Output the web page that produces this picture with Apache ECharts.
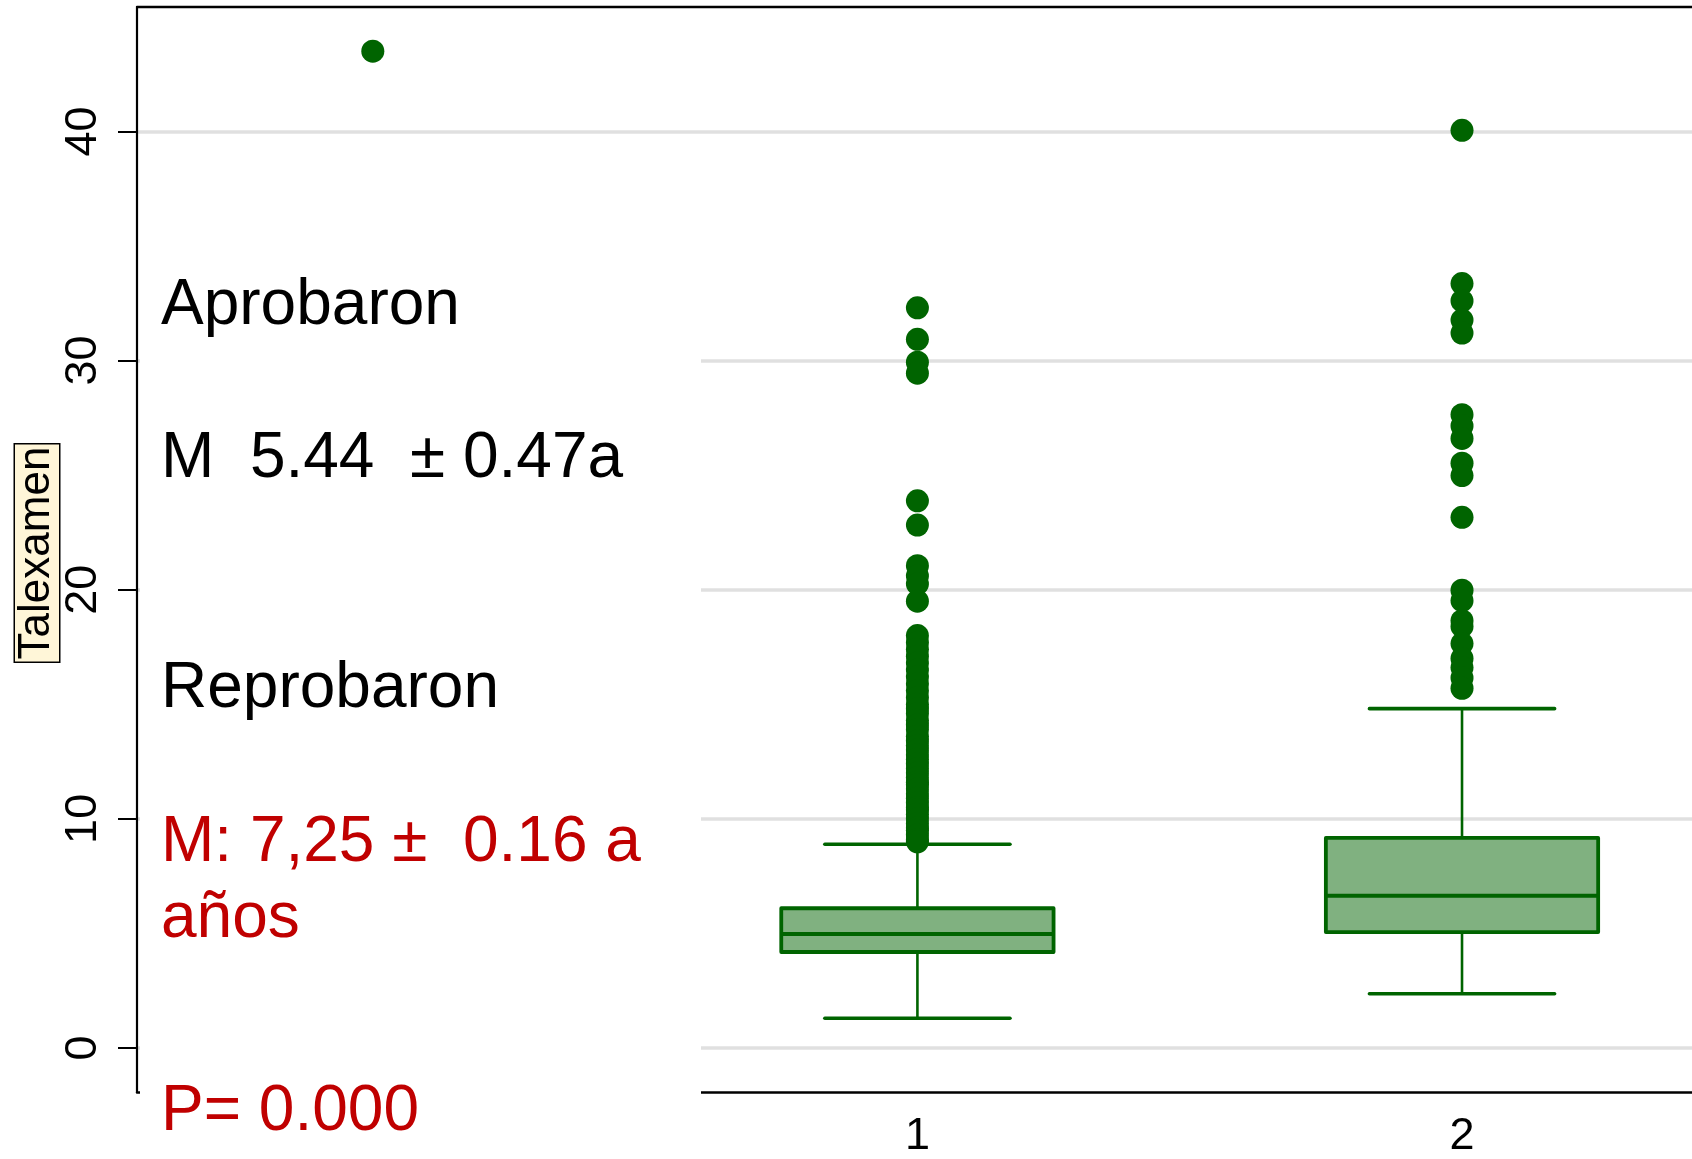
<!DOCTYPE html>
<html>
<head>
<meta charset="utf-8">
<script src="https://cdn.jsdelivr.net/npm/echarts@6/dist/echarts.min.js"></script>
<style>
html,body{margin:0;padding:0;background:#ffffff;}
#chart{width:1692px;height:1159px;}
</style>
</head>
<body>
<div id="chart"></div>
<script>
// ---- data ----
const groupPositions = [1, 2];
const lowerWhisker = [1.30, 2.37];
const q1Values = [4.19, 5.06];
const medianValues = [4.97, 6.64];
const q3Values = [6.10, 9.17];
const upperWhisker = [8.89, 14.81];

const outliersGroup0 = [43.5];
const outliersGroup1 = [32.3, 30.93, 29.93, 29.45, 23.88, 22.82, 21.05, 20.6, 20.25, 19.5,
  18.0, 17.7, 17.4, 17.1, 16.8, 16.5, 16.2, 15.9, 15.6, 15.3, 15.0, 14.8, 14.6, 14.3, 14.1,
  13.9, 13.6, 13.4, 13.2, 13.0, 12.8, 12.6, 12.4, 12.2, 12.0, 11.8, 11.6, 11.5, 11.3, 11.1,
  10.9, 10.7, 10.5, 10.4, 10.2, 10.0, 9.8, 9.6, 9.5, 9.3, 9.1, 9.0];
const outliersGroup2 = [40.05, 33.36, 32.6, 31.77, 31.2, 27.64, 27.15, 26.6, 25.52, 24.98,
  23.16, 19.98, 19.52, 18.65, 18.4, 17.65, 17.0, 16.6, 16.15, 15.7];

const xTickLabels = [1, 2];
const yTickValues = [0, 10, 20, 30, 40];
const yAxisTitle = 'Talexamen';

// ---- build ----
const FONT = '"Liberation Sans", Arial, Helvetica, sans-serif';
const DK = '#006400';

const boxData = groupPositions.map((g, i) => [g, lowerWhisker[i], q1Values[i], medianValues[i], q3Values[i], upperWhisker[i]]);
const outlierData = []
  .concat(outliersGroup0.map(v => [0, v]))
  .concat(outliersGroup1.map(v => [1, v]))
  .concat(outliersGroup2.map(v => [2, v]));

const chart = echarts.init(document.getElementById('chart'), null, {renderer: 'canvas'});

function renderBox(params, api) {
  const x = api.value(0);
  const pLow = api.coord([x, api.value(1)]);
  const pQ1 = api.coord([x, api.value(2)]);
  const pMed = api.coord([x, api.value(3)]);
  const pQ3 = api.coord([x, api.value(4)]);
  const pHigh = api.coord([x, api.value(5)]);
  const halfBox = api.size([0.5, 0])[0] / 2;
  const halfCap = api.size([0.34, 0])[0] / 2;
  const cx = pMed[0];
  return {
    type: 'group',
    children: [
      {type: 'line', shape: {x1: cx, y1: pLow[1], x2: cx, y2: pQ1[1]}, style: {stroke: DK, lineWidth: 2.6}},
      {type: 'line', shape: {x1: cx, y1: pQ3[1], x2: cx, y2: pHigh[1]}, style: {stroke: DK, lineWidth: 2.6}},
      {type: 'line', shape: {x1: cx - halfCap, y1: pLow[1], x2: cx + halfCap, y2: pLow[1]}, style: {stroke: DK, lineWidth: 3.6, lineCap: 'round'}},
      {type: 'line', shape: {x1: cx - halfCap, y1: pHigh[1], x2: cx + halfCap, y2: pHigh[1]}, style: {stroke: DK, lineWidth: 3.6, lineCap: 'round'}},
      {type: 'rect', shape: {x: cx - halfBox, y: pQ3[1], width: halfBox * 2, height: pQ1[1] - pQ3[1]},
        style: {fill: '#80b180', stroke: DK, lineWidth: 3.8, lineJoin: 'round'}},
      {type: 'line', shape: {x1: cx - halfBox, y1: pMed[1], x2: cx + halfBox, y2: pMed[1]}, style: {stroke: DK, lineWidth: 4}}
    ]
  };
}

const textLeft = 161;
const option = {
  backgroundColor: '#ffffff',
  animation: false,
  grid: {left: 137, right: 0, top: 7, bottom: 60, containLabel: false},
  xAxis: [{
    type: 'value', min: -0.433, max: 2.4223, position: 'bottom',
    axisLine: {show: true, onZero: false, lineStyle: {color: '#000', width: 2.5}},
    axisTick: {show: false},
    axisLabel: {customValues: xTickLabels, margin: 22, fontSize: 45, fontFamily: FONT, color: '#000'},
    splitLine: {show: false}
  }, {
    type: 'value', min: -0.433, max: 2.4223, position: 'top',
    axisLine: {show: true, onZero: false, lineStyle: {color: '#000', width: 2.3}},
    axisTick: {show: false}, axisLabel: {show: false}, splitLine: {show: false}
  }],
  yAxis: [{
    type: 'value', min: -1.92, max: 45.43,
    axisLine: {show: true, onZero: false, lineStyle: {color: '#000', width: 2.2}},
    axisTick: {show: true, length: 19, customValues: yTickValues, lineStyle: {color: '#000', width: 2}},
    axisLabel: {customValues: yTickValues, rotate: 90, margin: 31, fontSize: 45, fontFamily: FONT, color: '#000'},
    splitLine: {show: true, lineStyle: {color: '#e0e0e0', width: 3.5}}
  }],
  series: [{
    type: 'custom', name: 'box', xAxisIndex: 0, yAxisIndex: 0,
    renderItem: renderBox, data: boxData, z: 3,
    encode: {x: 0, y: [1, 2, 3, 4, 5]}
  }, {
    type: 'scatter', name: 'outliers', xAxisIndex: 0, yAxisIndex: 0,
    data: outlierData, symbol: 'circle', symbolSize: 23, z: 5,
    itemStyle: {color: DK, opacity: 1}
  }],
  graphic: [
    {type: 'rect', z: 100, shape: {x: 140, y: 150, width: 561, height: 1009}, style: {fill: '#ffffff'}},
    {type: 'text', z: 101, x: textLeft, y: 338, style: {text: 'Aprobaron', fontSize: 64, fontFamily: FONT, fill: '#000', textVerticalAlign: 'bottom'}},
    {type: 'text', z: 101, x: textLeft, y: 491, style: {text: 'M  5.44  \u00B1 0.47a', fontSize: 64, fontFamily: FONT, fill: '#000', textVerticalAlign: 'bottom'}},
    {type: 'text', z: 101, x: textLeft, y: 721, style: {text: 'Reprobaron', fontSize: 64, fontFamily: FONT, fill: '#000', textVerticalAlign: 'bottom'}},
    {type: 'text', z: 101, x: textLeft, y: 875, style: {text: 'M: 7,25 \u00B1  0.16 a', fontSize: 64, fontFamily: FONT, fill: '#c00000', textVerticalAlign: 'bottom'}},
    {type: 'text', z: 101, x: textLeft, y: 951, style: {text: 'a\u00F1os', fontSize: 64, fontFamily: FONT, fill: '#c00000', textVerticalAlign: 'bottom'}},
    {type: 'text', z: 101, x: textLeft, y: 1144, style: {text: 'P= 0.000', fontSize: 64, fontFamily: FONT, fill: '#c00000', textVerticalAlign: 'bottom'}},
    {type: 'text', z: 101, x: 37, y: 553, rotation: Math.PI / 2,
      style: {text: yAxisTitle, fontSize: 44, fontFamily: FONT, fill: '#000', textAlign: 'center', textVerticalAlign: 'middle',
        backgroundColor: '#fff6d8', borderColor: '#000', borderWidth: 1.5, padding: [0, 2, 0, 2]}}
  ]
};
chart.setOption(option);
</script>
</body>
</html>
